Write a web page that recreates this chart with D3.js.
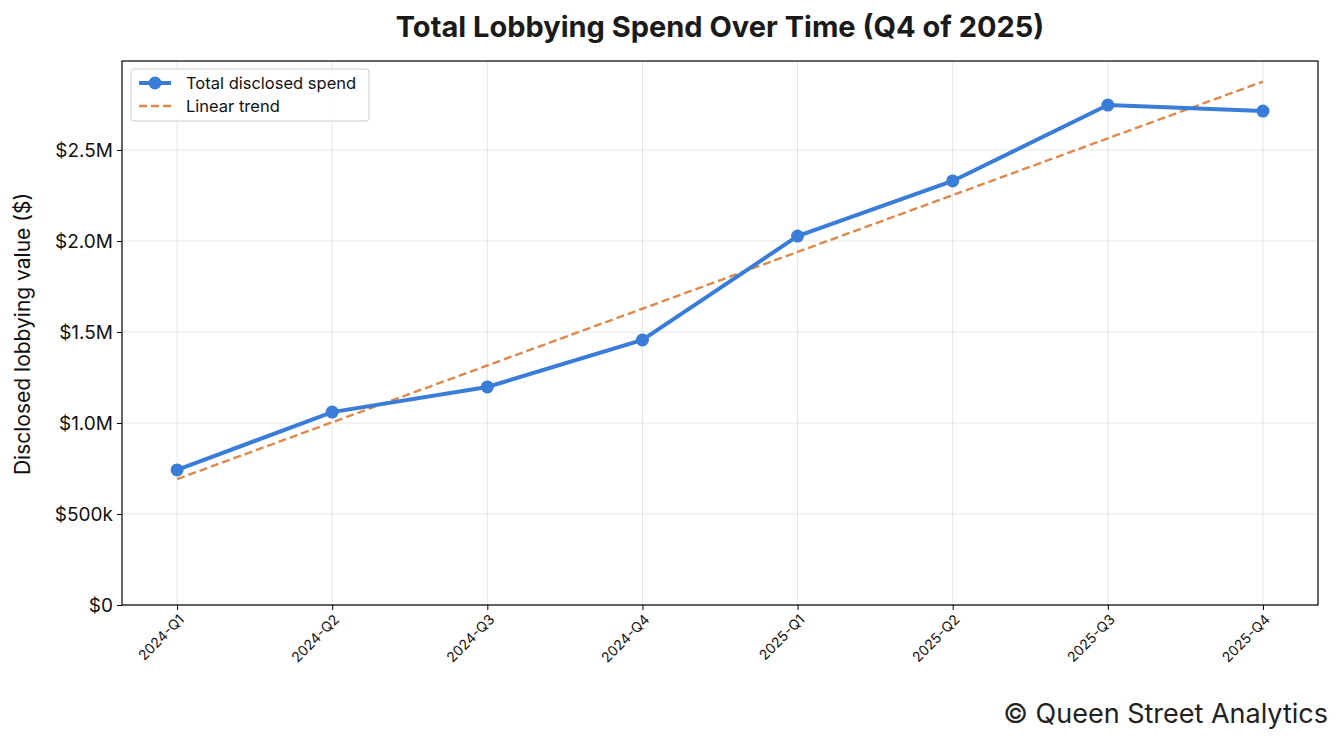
<!DOCTYPE html>
<html><head><meta charset="utf-8">
<script src="https://cdn.jsdelivr.net/npm/d3@7/dist/d3.min.js"></script>
<style>body{margin:0;background:#fff;font-family:Inter,sans-serif}</style>
</head><body><svg id="c" width="1343" height="744"></svg>
<script>
const categories=["2024-Q1","2024-Q2","2024-Q3","2024-Q4","2025-Q1","2025-Q2","2025-Q3","2025-Q4"];
const spend=[742000,1060000,1198000,1456000,2027000,2330000,2747000,2714000];
const trend=[692000,1004000,1316000,1628000,1940000,2252000,2564000,2876000];
const yTicks=[0,500000,1000000,1500000,2000000,2500000];
const yLabels=["$0","$500k","$1.0M","$1.5M","$2.0M","$2.5M"];

const svg=d3.select("#c");
const L=122,R=1318,T=61,B=605;
const x=d3.scaleLinear().domain([-0.355,7.355]).range([L,R]);
const y=d3.scaleLinear().domain([0,2989000]).range([B,T]);
const g=svg.append("g");
g.selectAll(".gx").data(categories).join("line").attr("x1",(d,i)=>x(i)).attr("x2",(d,i)=>x(i)).attr("y1",T).attr("y2",B).attr("stroke","#000").attr("stroke-opacity",0.1);
g.selectAll(".gy").data(yTicks).join("line").attr("x1",L).attr("x2",R).attr("y1",d=>y(d)).attr("y2",d=>y(d)).attr("stroke","#000").attr("stroke-opacity",0.1);
const ya=svg.append("g").attr("transform",`translate(${L},0)`).call(d3.axisLeft(y).tickValues(yTicks).tickFormat((d,i)=>yLabels[i]).tickSize(5).tickPadding(4));
ya.selectAll("text").attr("font-size",19).attr("font-family","Inter").attr("fill","#111");
const xa=svg.append("g").attr("transform",`translate(0,${B})`).call(d3.axisBottom(x).tickValues(d3.range(8)).tickFormat(i=>categories[i]).tickSize(5));
xa.selectAll("text").attr("font-size",14).attr("font-family","Inter").attr("fill","#111").attr("text-anchor","end").attr("x",0).attr("y",0).attr("dy","0.35em").attr("transform","translate(4,12) rotate(-45)");
svg.selectAll(".domain").remove();
svg.append("rect").attr("x",L).attr("y",T).attr("width",R-L).attr("height",B-T).attr("fill","none").attr("stroke","#000").attr("stroke-width",1.2);
svg.append("path").datum(trend).attr("d",d3.line().x((d,i)=>x(i)).y(d=>y(d))).attr("fill","none").attr("stroke","#e0884a").attr("stroke-width",2.5).attr("stroke-dasharray","8,4");
svg.append("path").datum(spend).attr("d",d3.line().x((d,i)=>x(i)).y(d=>y(d))).attr("fill","none").attr("stroke","#3a7dd8").attr("stroke-width",4);
svg.selectAll(".pt").data(spend).join("circle").attr("cx",(d,i)=>x(i)).attr("cy",d=>y(d)).attr("r",6.5).attr("fill","#3a7dd8");
const lg=svg.append("g");
lg.append("rect").attr("x",131).attr("y",69).attr("width",238).attr("height",52).attr("rx",3).attr("fill","#fff").attr("fill-opacity",0.85).attr("stroke","#ccc");
lg.append("line").attr("x1",139).attr("x2",171).attr("y1",83).attr("y2",83).attr("stroke","#3a7dd8").attr("stroke-width",4);
lg.append("circle").attr("cx",155).attr("cy",83).attr("r",6.5).attr("fill","#3a7dd8");
lg.append("line").attr("x1",139).attr("x2",171).attr("y1",106).attr("y2",106).attr("stroke","#e0884a").attr("stroke-width",2.5).attr("stroke-dasharray","8,4");
lg.append("text").attr("x",186).attr("y",89).text("Total disclosed spend").attr("font-size",16.5).attr("fill","#111");
lg.append("text").attr("x",186).attr("y",112).text("Linear trend").attr("font-size",16.5).attr("fill","#111");
svg.append("text").attr("x",720).attr("y",37).attr("text-anchor","middle").attr("font-size",29).attr("font-weight","bold").attr("fill","#1a1a1a").text("Total Lobbying Spend Over Time (Q4 of 2025)");
svg.append("text").attr("transform",`translate(30,${(T+B)/2+1}) rotate(-90)`).attr("text-anchor","middle").attr("font-size",21).attr("fill","#111").text("Disclosed lobbying value ($)");
svg.append("text").attr("x",1328).attr("y",723).attr("text-anchor","end").attr("font-size",27).attr("fill","#222").text("© Queen Street Analytics");
</script></body></html>
